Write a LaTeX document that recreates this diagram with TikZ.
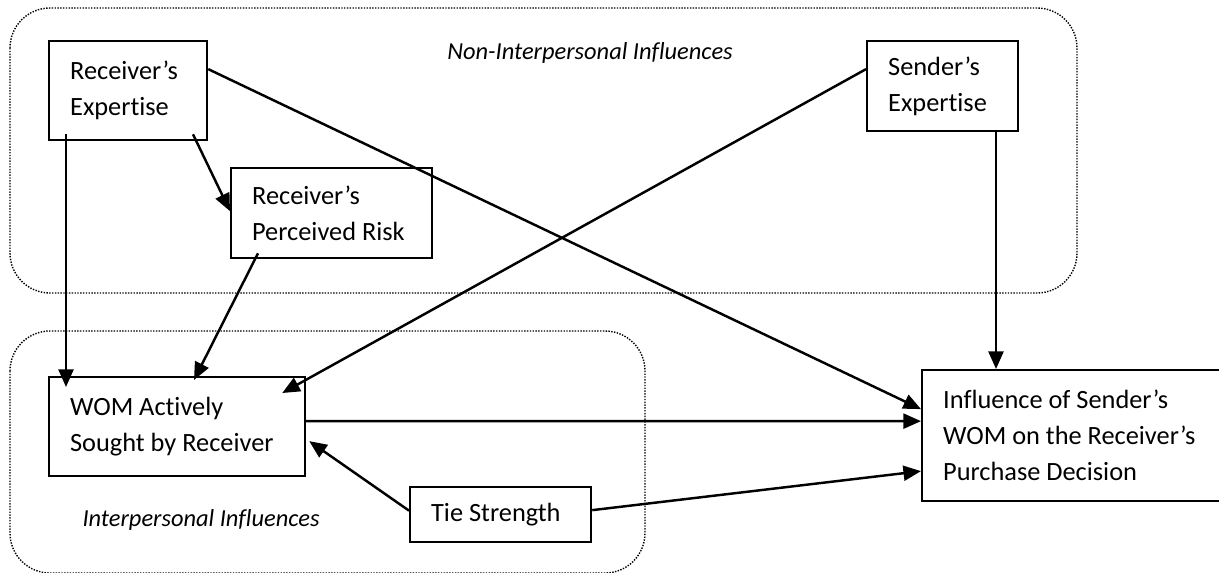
\documentclass[tikz,border=0pt]{standalone}
\usepackage{fontspec}
\setmainfont{Carlito}[Ligatures=NoCommon]
\usetikzlibrary{arrows.meta}

\begin{document}
\begin{tikzpicture}
[x=0.02cm,y=-0.02cm,
  arrowDecorate/.style={-{Triangle[length=10pt,width=8.5pt]},line width=1.4pt},%
  nodeDecorate/.style={shape=rectangle,draw,line width=1.3pt,anchor=north west,
    align=flush left,inner xsep=0.42cm,font=\fontsize{15}{20.5}\selectfont},%
  groupDecorate/.style={draw,line width=0.8pt,dash pattern=on 0.8pt off 0.8pt,rounded corners=0.8cm},%
  labelDecorate/.style={font=\fontsize{13.9}{18}\selectfont\itshape}]
\useasboundingbox (0,0) rectangle (1219,572);
%% groups
\draw[groupDecorate] (10,8) rectangle (1077,293);
\draw[groupDecorate] (10,331) rectangle (645,573);
\node[labelDecorate] (nonlabel) at (590,53) {Non-Interpersonal Influences};
\node[labelDecorate] (interlabel) at (201,520) {Interpersonal Influences};
%% nodes or vertices
\foreach \nodename/\x/\y/\boxw/\boxh/\textw/\txt in {
  recvexp/48/40/3.16/1.98/2.32/{Receiver’s\\Expertise},
  risk/230/167/4.02/1.8/3.18/{Receiver’s\\Perceived Risk},
  sendexp/866/40/3.02/1.8/2.18/{Sender’s\\Expertise},
  wom/48/376/5.12/1.98/4.28/{WOM Actively\\Sought by Receiver},
  tie/409/486/3.62/1.1/2.78/{Tie Strength},
  influence/921/369/6.08/2.62/5.24/{Influence of Sender’s\\WOM on the Receiver’s\\Purchase Decision}}
{
  \node (\nodename) at (\x,\y) [nodeDecorate,minimum width=\boxw cm,
    minimum height=\boxh cm,text width=\textw cm] {\txt};
}
%% edges or lines
\path
\foreach \startnode/\sx/\sy/\endnode/\ex/\ey in {
  recvexp.south west/18/-7/wom.north west/18/11,
  recvexp.south west/145/-7/risk.west/0/-2,
  recvexp.east/0/-21.5/influence.west/0/-26.5,
  risk.south west/28/-6/wom.north west/146/4,
  sendexp.west/0/-17/wom.north east/-24/17,
  sendexp.south west/130/0/influence.north west/75/0,
  wom.east/0/-5.5/influence.west/0/-14.5,
  tie.west/0/-4/wom.east/3/14.5,
  tie.east/0/-4.5/influence.west/0/35.5}
{
  ([shift={(\sx,\sy)}]\startnode) edge[arrowDecorate] ([shift={(\ex,\ey)}]\endnode)
};
\end{tikzpicture}
\end{document}
